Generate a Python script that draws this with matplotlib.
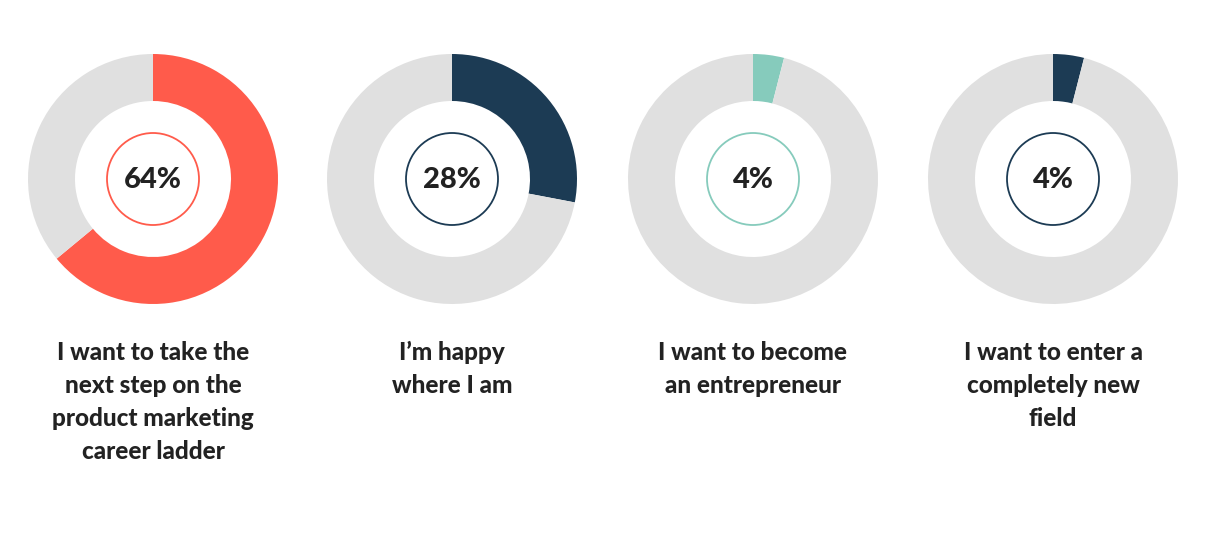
import matplotlib
matplotlib.use("Agg")
import matplotlib.pyplot as plt
from matplotlib.patches import Circle

# data
labels = ["I want to take the\nnext step on the\nproduct marketing\ncareer ladder",
          "I\u2019m happy\nwhere I am",
          "I want to become\nan entrepreneur",
          "I want to enter a\ncompletely new\nfield"]
values = [64, 28, 4, 4]
colors = ["#FF5B4B", "#1C3B54", "#86CBBC", "#1C3B54"]
rest_color = "#E0E0E0"

W, H = 1224, 544
centers_x = [153, 452, 753, 1053]
center_y = 179
R = 125

plt.rcParams['font.family'] = ['Lato', 'DejaVu Sans']

fig = plt.figure(figsize=(W / 100, H / 100), dpi=100)
fig.patch.set_facecolor("white")

for cx, v, c, lab in zip(centers_x, values, colors, labels):
    ax = fig.add_axes([(cx - R) / W, (H - center_y - R) / H, 2 * R / W, 2 * R / H])
    ax.pie([v, 100 - v], colors=[c, rest_color], startangle=90, counterclock=False,
           radius=1, wedgeprops=dict(width=47 / R, linewidth=0))
    ax.add_patch(Circle((0, 0), 46 / R, fill=False, edgecolor=c, linewidth=1.3))
    ax.text(0, -0.01, f"{v}%", ha="center", va="center", fontsize=21, fontweight="black", color="#222222")
    ax.set_xlim(-1, 1)
    ax.set_ylim(-1, 1)
    ax.set_aspect("equal")
    ax.axis("off")
    fig.text(cx / W, (H - 341) / H, lab, ha="center", va="top", fontsize=17.5,
             fontweight="black", color="#222222", linespacing=1.52)

fig.savefig("out.png", dpi=100, facecolor="white")
